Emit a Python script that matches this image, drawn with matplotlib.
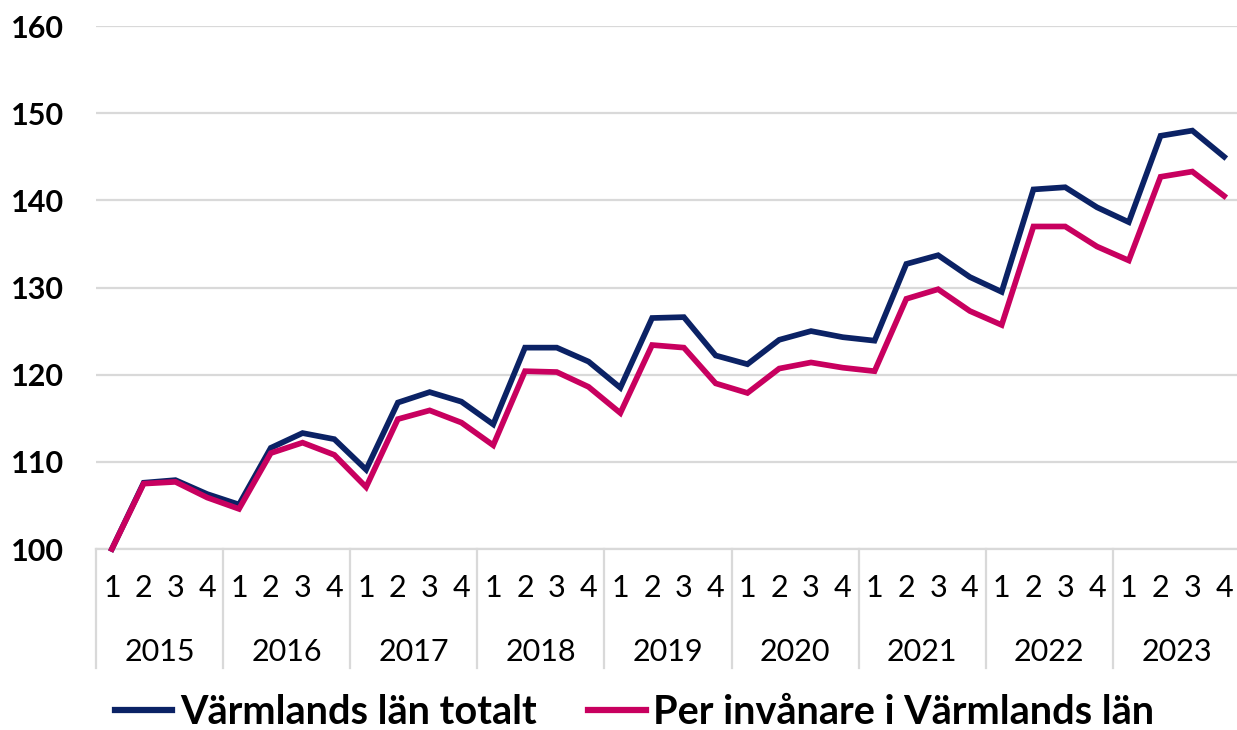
import matplotlib
matplotlib.use("Agg")
import matplotlib.pyplot as plt
import matplotlib.transforms as mtransforms
from matplotlib.lines import Line2D

years = ["2015", "2016", "2017", "2018", "2019", "2020", "2021", "2022", "2023"]
quarters = ["1", "2", "3", "4"]
series_names = ["Värmlands län totalt", "Per invånare i Värmlands län"]
totalt = [100.0, 107.6, 107.9, 106.3, 105.1,
          111.6, 113.3, 112.6, 109.1,
          116.8, 118.0, 116.9, 114.3,
          123.1, 123.1, 121.5, 118.5,
          126.5, 126.6, 122.2, 121.2,
          124.0, 125.0, 124.3, 123.9,
          132.7, 133.7, 131.2, 129.5,
          141.25, 141.5, 139.2, 137.5,
          147.4, 148.0, 145.0]
per_inv = [100.0, 107.5, 107.7, 105.9, 104.6,
           111.0, 112.2, 110.8, 107.1,
           114.9, 115.9, 114.5, 111.9,
           120.4, 120.3, 118.6, 115.6,
           123.4, 123.1, 119.0, 117.9,
           120.7, 121.4, 120.8, 120.4,
           128.7, 129.8, 127.3, 125.7,
           137.0, 137.0, 134.7, 133.1,
           142.7, 143.3, 140.5]
yticks = [100, 110, 120, 130, 140, 150, 160]

colors = ["#0b2265", "#c8005f"]
grid_c = "#d9d9d9"
font = "Lato"

fig = plt.figure(figsize=(12.37, 7.30), dpi=100)
ax = fig.add_axes([96/1237, 1 - 549/730, (1240 - 96)/1237, (549 - 26)/730])

n = len(years) * len(quarters)
x = list(range(n))
ax.plot(x, totalt, color=colors[0], lw=4.1, solid_joinstyle="miter", label=series_names[0], zorder=3, clip_on=False)
ax.plot(x, per_inv, color=colors[1], lw=4.1, solid_joinstyle="miter", label=series_names[1], zorder=3, clip_on=False)

ax.set_xlim(-0.5, n - 0.5)
ax.set_ylim(100, 160)
ax.set_yticks(yticks)
ax.set_yticklabels([str(v) for v in yticks], fontfamily=font, fontweight="bold", fontsize=22)
ax.tick_params(axis="y", length=0, pad=23)
ax.set_xticks([])
ax.grid(axis="y", color=grid_c, lw=1.6, zorder=0)
for s in ["top", "right", "left"]:
    ax.spines[s].set_visible(False)
ax.spines["bottom"].set_color(grid_c)
ax.spines["bottom"].set_linewidth(1.6)

trans = mtransforms.blended_transform_factory(ax.transData, ax.transAxes)
ax_h = 523.0
y_q = -(588 - 549) / ax_h
y_y = -(652 - 549) / ax_h
y_sep = -(668 - 549) / ax_h
for yi, yr in enumerate(years):
    for qi, q in enumerate(quarters):
        xi = yi * 4 + qi
        ax.text(xi, y_q, q, transform=trans, ha="center", va="center",
                fontfamily=font, fontsize=22, color="#000000")
    ax.text(yi * 4 + 1.5, y_y, yr, transform=trans, ha="center", va="center",
            fontfamily=font, fontsize=22, color="#000000")
for k in range(len(years) + 1):
    xs = k * 4 - 0.5
    ax.plot([xs, xs], [0, y_sep], transform=trans, color=grid_c, lw=1.6, clip_on=False)

handles = [Line2D([0], [0], color=colors[0], lw=4.5),
           Line2D([0], [0], color=colors[1], lw=4.5)]
fig.legend(handles, series_names, loc="center", bbox_to_anchor=(0.513, 0.024),
           ncol=2, frameon=False, handlelength=1.45, handletextpad=0.2,
           columnspacing=1.3, prop={"family": font, "weight": "bold", "size": 28.5})

fig.savefig("out.png", dpi=100)
